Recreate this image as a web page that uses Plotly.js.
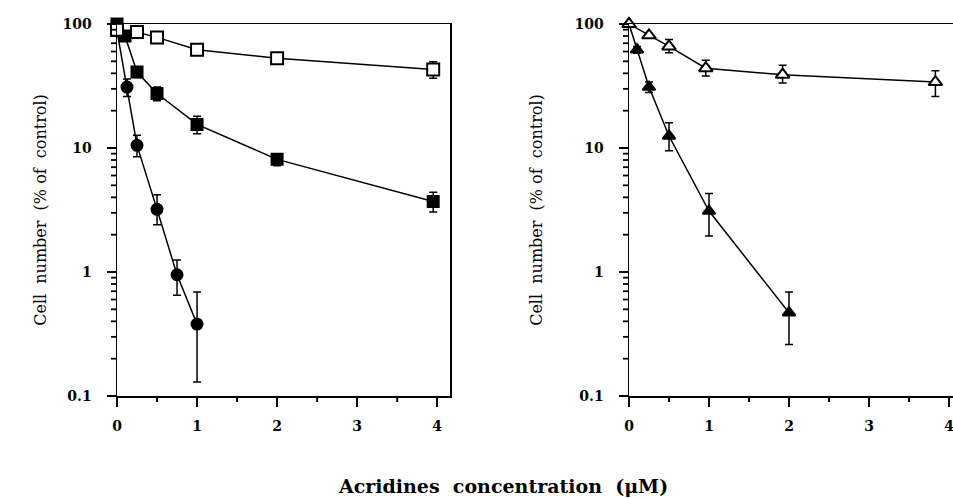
<!DOCTYPE html>
<html>
<head>
<meta charset="utf-8">
<script src="https://cdn.plot.ly/plotly-3.0.1.min.js"></script>
<style>html,body{margin:0;padding:0;background:#fff;overflow:hidden;}#chart{width:965px;height:499px;}</style>
</head>
<body>
<div id="chart"></div>
<script>
// ---- Left panel data ----
const openSqX = [0, 0.25, 0.5, 1, 2, 3.95];
const openSqY = [90, 86, 78, 62, 53, 43];
const openSqErrP = [0, 4, 5, 6, 5, 6.5];
const openSqErrM = [0, 4, 5, 6, 5, 6.5];

const fillSqX = [0, 0.1, 0.25, 0.5, 1, 2, 3.95];
const fillSqY = [100, 80, 41, 27.5, 15.5, 8.1, 3.7];
const fillSqErrP = [0, 5, 4, 3.5, 2.5, 0.9, 0.7];
const fillSqErrM = [0, 5, 4, 3.5, 2.5, 0.9, 0.65];

const circX = [0, 0.125, 0.25, 0.5, 0.75, 1];
const circY = [88, 31, 10.5, 3.2, 0.95, 0.38];
const circErrP = [0, 5, 2.2, 1.0, 0.3, 0.31];
const circErrM = [0, 5, 2.0, 0.8, 0.3, 0.25];

// ---- Right panel data ----
const openTriX = [0, 0.25, 0.5, 0.96, 1.92, 3.83];
const openTriY = [100, 81, 66, 44, 39, 34];
const openTriErrP = [0, 3, 9, 7, 7.5, 8];
const openTriErrM = [0, 3, 7.5, 6, 5.5, 8];

const fillTriX = [0, 0.1, 0.25, 0.5, 1, 2];
const fillTriY = [100, 62, 31, 12.5, 3.1, 0.47];
const fillTriErrP = [0, 4, 3, 3.5, 1.2, 0.22];
const fillTriErrM = [0, 4, 3, 3, 1.15, 0.21];

const yTickVals = [0.1, 1, 10, 100];
const yTickText = ['0.1', '1', '10', '100'];
const yMinorVals = [0.2, 0.3, 0.4, 0.5, 0.6, 0.7, 0.8, 0.9, 2, 3, 4, 5, 6, 7, 8, 9, 20, 30, 40, 50, 60, 70, 80, 90];
const xTickVals = [0, 1, 2, 3, 4];
const xMinorVals = [0.5, 1.5, 2.5, 3.5];
const yTitle = 'Cell\u00a0\u00a0number\u00a0\u00a0(%\u00a0of\u00a0\u00a0control)';
const xTitle = 'Acridines\u00a0\u00a0concentration\u00a0\u00a0(μM)';

const W = 965;
const YDOM = [0.2064, 0.9519];
const YLOGR = [-1, 2];
const XDOM1 = [117 / W, 450 / W];
const XDOM2 = [629 / W, 1.0];
const XR1 = [0, 4.16];
const XR2 = [0, 4.2];

function series(x, y, ep, em, symbol, open, xa, ya, name) {
  return {
    x: x, y: y, xaxis: xa, yaxis: ya, name: name,
    type: 'scatter', mode: 'lines+markers', cliponaxis: false,
    line: {color: '#000', width: 1.5},
    marker: {symbol: symbol, size: open ? 12 : 11, color: open ? '#fff' : '#000',
             line: {color: '#000', width: 2}},
    error_y: {type: 'data', symmetric: false, array: ep, arrayminus: em,
              color: '#000', thickness: 1.5, width: 4}
  };
}

const traces = [
  series(fillSqX, fillSqY, fillSqErrP, fillSqErrM, 'square', false, 'x', 'y', 'filled squares'),
  series(circX, circY, circErrP, circErrM, 'circle', false, 'x', 'y', 'filled circles'),
  series(openSqX, openSqY, openSqErrP, openSqErrM, 'square', true, 'x', 'y', 'open squares'),
  series(fillTriX, fillTriY, fillTriErrP, fillTriErrM, 'triangle-up', false, 'x2', 'y2', 'filled triangles'),
  series(openTriX, openTriY, openTriErrP, openTriErrM, 'triangle-up', true, 'x2', 'y2', 'open triangles')
];

const fontFam = '"DejaVu Serif", "Liberation Serif", serif';
const tickFont = {family: fontFam, size: 14, color: '#000', weight: 'bold'};

function xAxis(domain, range, anchor) {
  return {
    domain: domain, range: range, anchor: anchor,
    showline: true, mirror: true, linecolor: '#000', linewidth: 1.5,
    showgrid: false, zeroline: false,
    tickmode: 'array', tickvals: xTickVals,
    ticks: 'outside', ticklen: 9, tickwidth: 2, tickcolor: '#000',
    ticklabelstandoff: 8,
    tickfont: tickFont
  };
}
function yAxis(anchor, standoff) {
  return {
    type: 'log', domain: YDOM, range: YLOGR, anchor: anchor,
    showline: true, mirror: true, linecolor: '#000', linewidth: 1.5,
    showgrid: false, zeroline: false,
    tickmode: 'array', tickvals: yTickVals, ticktext: yTickText,
    ticks: 'outside', ticklen: 9, tickwidth: 2, tickcolor: '#000',
    ticklabelstandoff: 12,
    tickfont: tickFont,
    title: {text: yTitle, standoff: standoff, font: {family: fontFam, size: 16, color: '#000'}}
  };
}

// minor tick marks (outside), placed in axis-domain fractions derived from the tick arrays
function minorShapes(xa, ya, xr) {
  const out = [];
  yMinorVals.forEach(v => {
    const f = (Math.log10(v) - YLOGR[0]) / (YLOGR[1] - YLOGR[0]);
    out.push({type: 'line', xref: xa + ' domain', yref: ya + ' domain',
      xsizemode: 'pixel', xanchor: 0, x0: -6, x1: 0, y0: f, y1: f,
      line: {color: '#000', width: 1.8}});
  });
  xMinorVals.forEach(v => {
    const f = (v - xr[0]) / (xr[1] - xr[0]);
    out.push({type: 'line', xref: xa + ' domain', yref: ya + ' domain',
      ysizemode: 'pixel', yanchor: 0, y0: -6, y1: 0, x0: f, x1: f,
      line: {color: '#000', width: 2}});
  });
  return out;
}

const layout = {
  width: W, height: 499,
  margin: {l: 0, r: 0, t: 0, b: 0},
  paper_bgcolor: '#fff', plot_bgcolor: '#fff',
  showlegend: false,
  font: {family: fontFam, color: '#000'},
  xaxis: xAxis(XDOM1, XR1, 'y'),
  yaxis: yAxis('x', 12),
  xaxis2: xAxis(XDOM2, XR2, 'y2'),
  yaxis2: yAxis('x2', 28),
  shapes: minorShapes('x', 'y', XR1).concat(minorShapes('x2', 'y2', XR2)),
  annotations: [{
    text: xTitle, xref: 'paper', yref: 'paper', x: 503 / W, y: 0.026,
    xanchor: 'center', yanchor: 'middle', showarrow: false,
    font: {family: fontFam, size: 19, color: '#000', weight: 'bold'}
  }]
};

Plotly.newPlot('chart', traces, layout, {displayModeBar: false, staticPlot: true});
</script>
</body>
</html>
